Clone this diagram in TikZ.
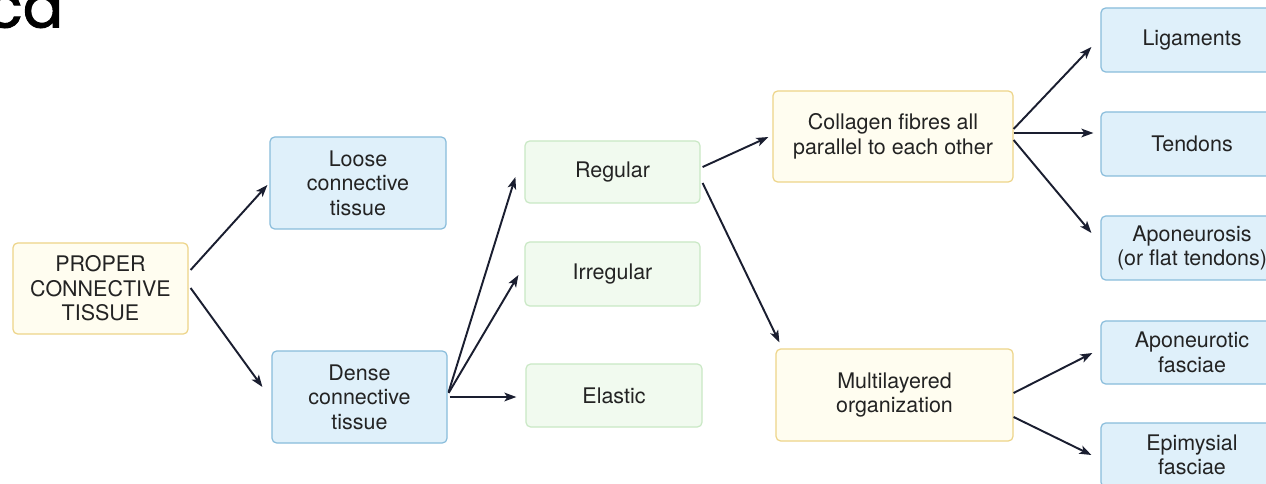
\documentclass[tikz,border=0pt]{standalone}
\usepackage{fontspec}
\setmainfont{TeX Gyre Heros}
\newfontfamily\headfont{Poppins}[FakeBold=1.6]
\usetikzlibrary{arrows.meta,calc}
\definecolor{txt}{HTML}{232323}
\definecolor{arrowc}{HTML}{1A1E30}
\definecolor{ydraw}{HTML}{EDD488}
\definecolor{yfill}{HTML}{FFFDF0}
\definecolor{bdraw}{HTML}{88BCDB}
\definecolor{bfill}{HTML}{DFF0FA}
\definecolor{gdraw}{HTML}{C9E8C4}
\definecolor{gfill}{HTML}{F1FAEF}
\tikzset{
  box/.style={draw, rounded corners=3.5pt, line width=0.9pt, align=center,
    text=txt, inner sep=0pt, font=\fontsize{16.1pt}{18.3pt}\selectfont},
  ybox/.style={box, draw=ydraw, fill=yfill},
  bbox/.style={box, draw=bdraw, fill=bfill},
  gbox/.style={box, draw=gdraw, fill=gfill},
  sz/.style 2 args={minimum width=#1*0.75pt, minimum height=#2*0.75pt},
  arr/.style={draw=arrowc, line width=1.45pt,
    -{Stealth[length=9pt,width=6.5pt,inset=2.2pt]}}
}
\begin{document}
\begin{tikzpicture}[x=0.75pt,y=-0.75pt]
\useasboundingbox (0,0) rectangle (1266,484);
\clip (0,0) rectangle (1266,484);
\fill[white] (0,0) rectangle (1266,484);

\node[anchor=base west, inner sep=0pt, font=\headfont\fontsize{45pt}{45pt}\selectfont] (head) at (-14,27.5) {ca};

\node[ybox, sz={175}{91}] (proper) at (100.5,288.5) {PROPER\\CONNECTIVE\\TISSUE};
\node[bbox, sz={176}{92}] (loose) at (358,183) {Loose\\connective\\tissue};
\node[bbox, sz={175}{92}] (dense) at (359.5,397) {Dense\\connective\\tissue};

\node[gbox, sz={175}{62}] (regular) at (612.5,172) {Regular};
\node[gbox, sz={175}{64}] (irregular) at (612.5,274) {Irregular};
\node[gbox, sz={176}{63}] (elastic) at (614,395.5) {Elastic};

\node[ybox, sz={240}{91}] (collagen) at (893,136.5) {Collagen fibres all\\parallel to each other};
\node[ybox, sz={237}{92}] (multi) at (894.5,395) {Multilayered\\organization};

\node[bbox, sz={182}{64}] (lig) at (1192,40) {Ligaments};
\node[bbox, sz={182}{64}] (tend) at (1192,144) {Tendons};
\node[bbox, sz={182}{64}] (apo) at (1192,248) {Aponeurosis\\(or flat tendons)};
\node[bbox, sz={182}{63}] (apof) at (1192,352.5) {Aponeurotic\\fasciae};
\node[bbox, sz={182}{64}] (epi) at (1192,455) {Epimysial\\fasciae};

\draw[arr] ($(proper.east)+(2,-18.5)$) -- ($(loose.west)+(-2,2)$);
\draw[arr] ($(proper.east)+(2,-0.5)$) -- ($(dense.west)+(-9,-10)$);

\draw[arr] ($(dense.east)+(1,-5)$) -- ($(regular.west)+(-9,5)$);
\draw[arr] ($(dense.east)+(1,-4)$) -- ($(irregular.west)+(-6,1)$);
\draw[arr] ($(dense.east)+(2,0)$) -- ($(elastic.west)+(-9,1.5)$);

\draw[arr] ($(regular.east)+(2,-5)$) -- ($(collagen.west)+(-4,0.5)$);
\draw[arr] ($(regular.east)+(2,11)$) -- ($(multi.north west)+(4,-6)$);

\draw[arr] ($(collagen.east)+(0,-7.5)$) -- ($(lig.west)+(-9,7)$);
\draw[arr] ($(collagen.east)+(0,-3.5)$) -- ($(tend.west)+(-7,-11)$);
\draw[arr] ($(collagen.east)+(0,3.5)$) -- ($(apo.west)+(-9,-15)$);

\draw[arr] ($(multi.east)+(0,-2)$) -- ($(apof.west)+(-8,0.5)$);
\draw[arr] ($(multi.east)+(0,22)$) -- ($(epi.west)+(-9,0)$);
\end{tikzpicture}
\end{document}
